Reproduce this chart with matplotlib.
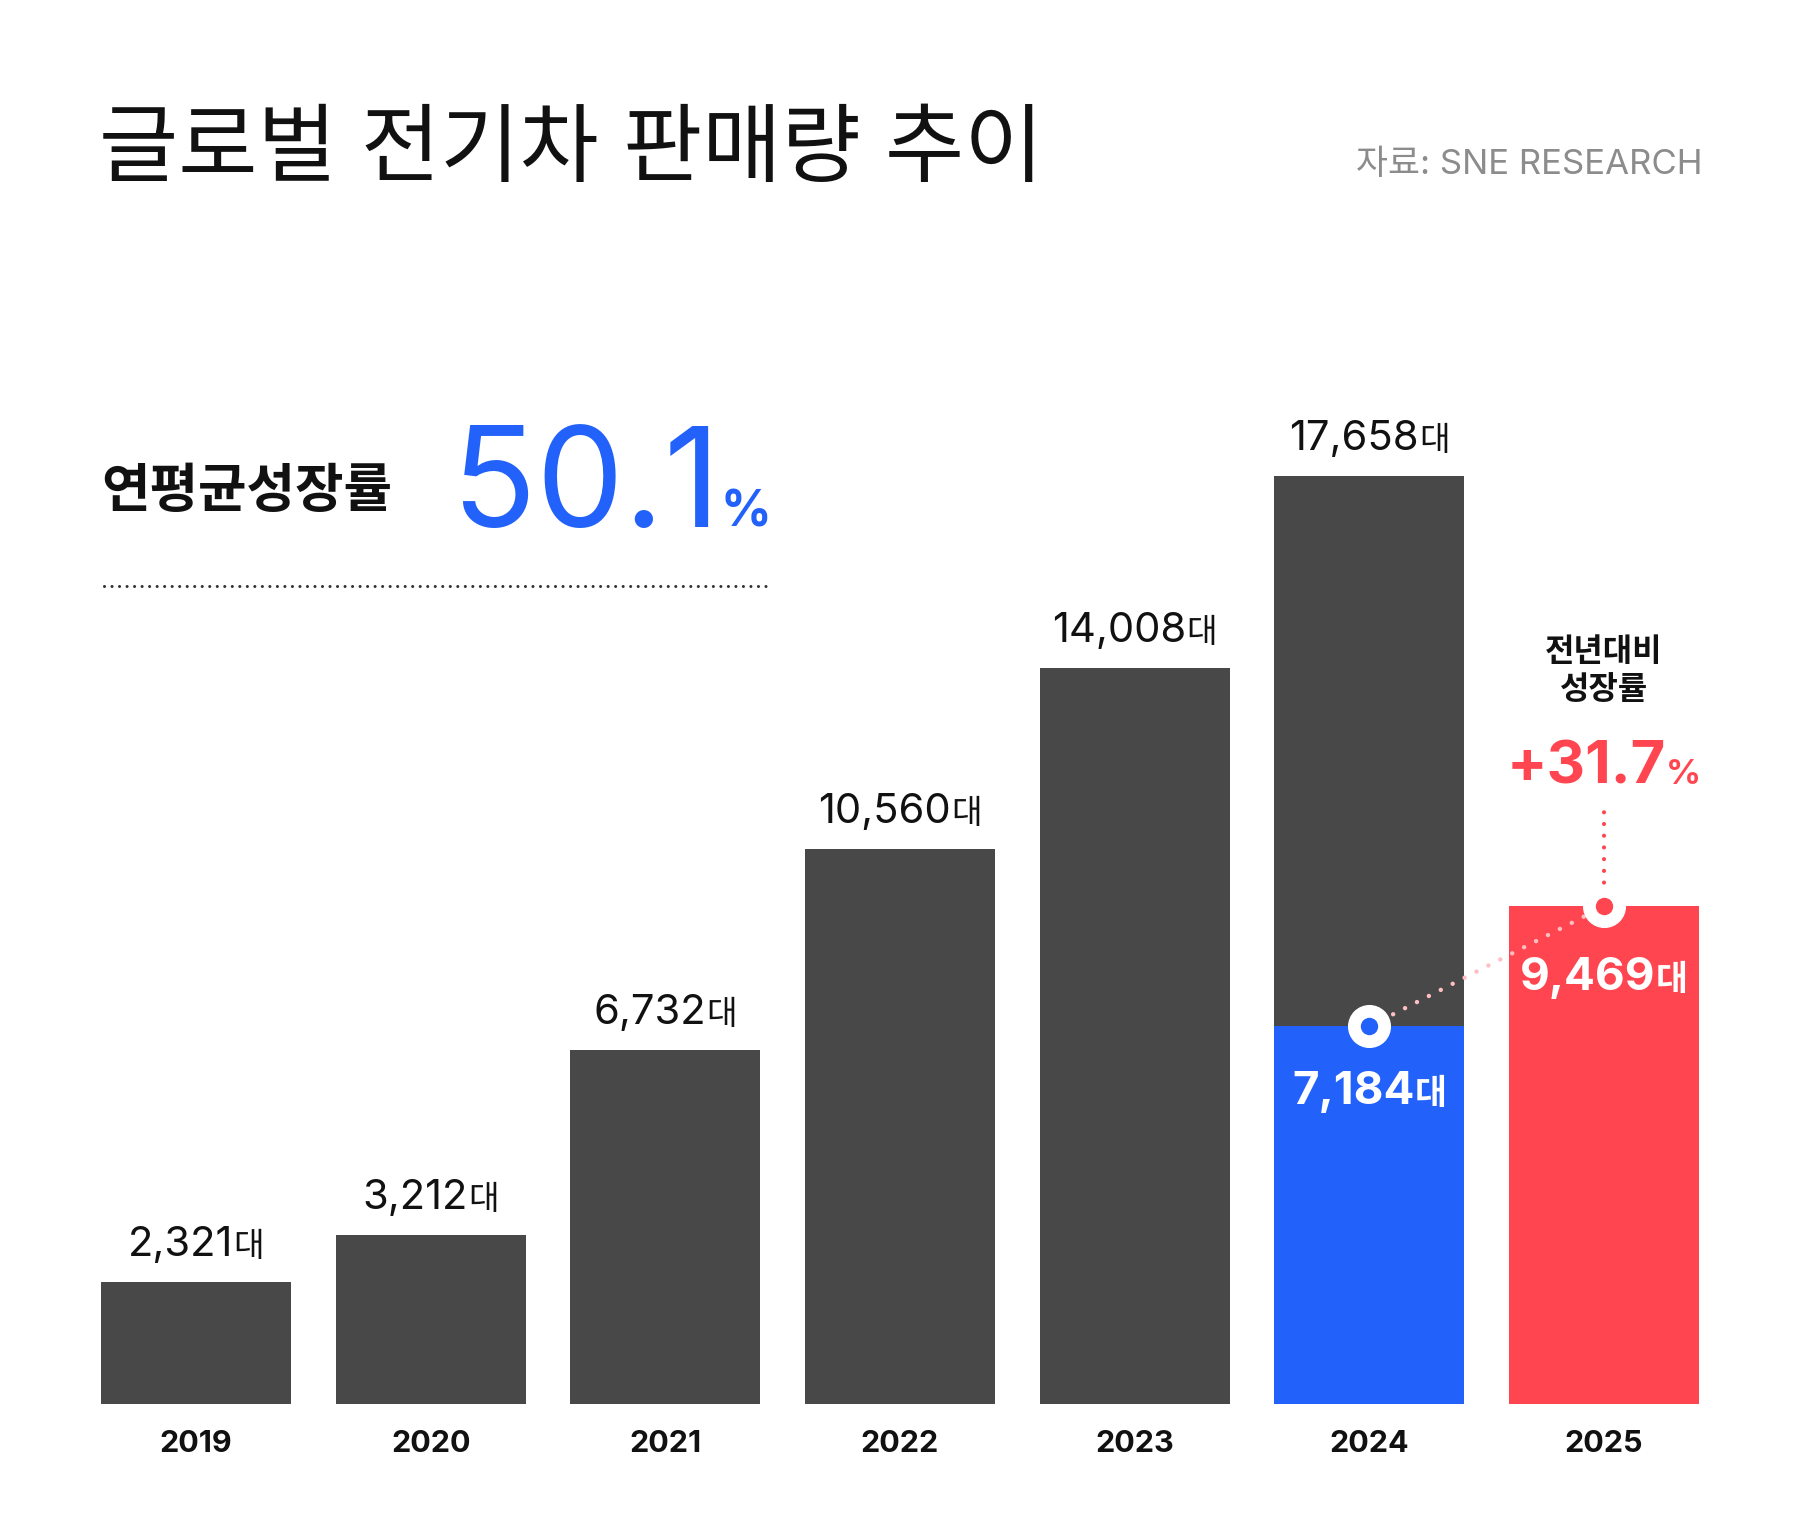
import matplotlib
matplotlib.use("Agg")
import matplotlib.pyplot as plt
from matplotlib.lines import Line2D

plt.rcParams['font.family'] = ['Inter', 'Noto Sans CJK KR', 'DejaVu Sans']

years = ["2019", "2020", "2021", "2022", "2023", "2024", "2025"]
sales = [2321, 3212, 6732, 10560, 14008, 17658, 9469]
h1_2024 = 7184
h1_2025 = 9469
cagr = "50.1"
yoy = "+31.7"

W, H = 1800, 1534
DARK = "#484848"
BLUE = "#2362FA"
RED = "#FF4650"
PINK = "#FFBFC2"

fig = plt.figure(figsize=(W / 100, H / 100), dpi=100)
fig.patch.set_facecolor("white")

# axes placed in pixels (top-origin)
left, right, bottom, top = 101, 1699, 1404, 300
ax = fig.add_axes([left / W, 1 - bottom / H, (right - left) / W, (bottom - top) / H])
bw = 0.81
ax.set_xlim(-bw / 2, len(years) - 1 + bw / 2)
ymax = sales[5] * (bottom - top) / (bottom - 476)
ax.set_ylim(0, ymax)
ax.axis("off")

colors = [DARK] * 6 + [RED]
ax.bar(range(len(years)), sales, width=bw, color=colors, zorder=1)
ax.bar(5, h1_2024, width=bw, color=BLUE, zorder=2)

renderer = fig.canvas.get_renderer()


def fpos(x, y):
    return x / W, 1 - y / H


def to_px(xd, yd):
    px, py = ax.transData.transform((xd, yd))
    return px, H - py


def rich(x, y, parts, ha="center", va="baseline"):
    # parts: (text, size, weight, color)
    texts = []
    for s, size, weight, color in parts:
        t = fig.text(0, 0, s, fontsize=size, fontweight=weight, color=color,
                     ha="left", va=va)
        texts.append(t)
    widths = [t.get_window_extent(renderer).width for t in texts]
    total = sum(widths)
    if ha == "center":
        start = x - total / 2
    elif ha == "right":
        start = x - total
    else:
        start = x
    cur = start
    for t, w in zip(texts, widths):
        t.set_position(fpos(cur, y))
        cur += w
    return texts


# title and source
fig.text(*fpos(99, 152), "글로벌 전기차 판매량 추이", fontsize=62, fontweight="light",
         color="#111111", ha="left", va="center")
fig.text(*fpos(1702, 165), "자료: SNE RESEARCH", fontsize=25, color="#8C8C8C",
         ha="right", va="center")

# CAGR block
fig.text(*fpos(101, 493), "연평균성장률", fontsize=38, fontweight="heavy",
         color="#111111", ha="left", va="center")
rich(452, 527, [(cagr, 100, "regular", BLUE), ("%", 36, "bold", BLUE)], ha="left")
fig.add_artist(Line2D([104 / W, 766 / W], [1 - 586 / H, 1 - 586 / H], color="#333333",
                      lw=2.2, linestyle=(0, (0.01, 2.45)), dash_capstyle="round"))

# value labels on top of bars
for i, v in enumerate(sales[:6]):
    px, py = to_px(i, v)
    rich(px, py - 26, [(f"{v:,}", 30, "regular", "#111111"), ("대", 24, "regular", "#111111")])

# year labels
for i, y in enumerate(years):
    px, _ = to_px(i, 0)
    fig.text(*fpos(px, 1444), y, fontsize=22, fontweight="bold", color="#111111",
             ha="center", va="center")

# inner labels for first-half values
bx, by = to_px(5, h1_2024)
rx, ry = to_px(6, h1_2025)
rich(bx, by + 78, [(f"{h1_2024:,}", 33, "bold", "white"), ("대", 25, "bold", "white")])
rich(rx, ry + 84, [(f"{h1_2025:,}", 33, "bold", "white"), ("대", 25, "bold", "white")])

# yoy annotation
fig.text(*fpos(rx, 652), "전년대비", fontsize=23, fontweight="bold", color="#111111",
         ha="center", va="center")
fig.text(*fpos(rx, 690), "성장률", fontsize=23, fontweight="bold", color="#111111",
         ha="center", va="center")
rich(rx, 784, [(yoy, 43, "bold", RED), ("%", 25, "bold", RED)])

# connectors
ax.plot([5, 6], [h1_2024, h1_2025], color=PINK, lw=3.2, linestyle=(0, (0.01, 3.0)),
        dash_capstyle="round", zorder=3)
y_top = ax.transData.inverted().transform((0, H - 805))[1]
ax.plot([6, 6], [h1_2025, y_top], color=RED, lw=3, linestyle=(0, (0.01, 2.8)),
        dash_capstyle="round", zorder=3, clip_on=False)
for xd, yd, c in [(5, h1_2024, BLUE), (6, h1_2025, RED)]:
    ax.plot(xd, yd, "o", ms=30, mfc="white", mec="white", zorder=4, clip_on=False)
    ax.plot(xd, yd, "o", ms=11.5, mfc=c, mec=c, zorder=5, clip_on=False)

fig.savefig("out.png", dpi=100, facecolor="white")
